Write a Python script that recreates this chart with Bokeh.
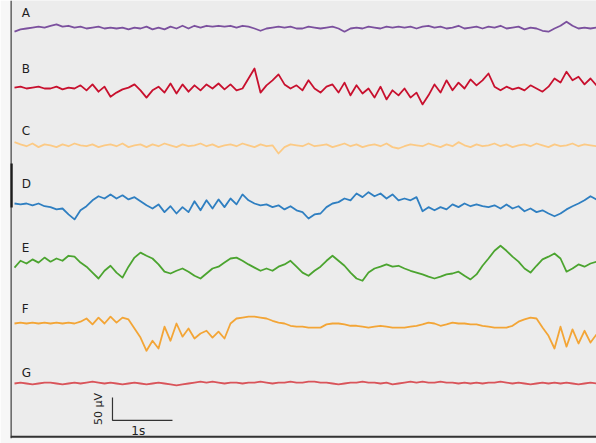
import numpy as np
from math import pi
from bokeh.plotting import figure
from bokeh.models import Range1d, Span, Label
from bokeh.embed import file_html
from bokeh.resources import INLINE

# ---- data (µV, sampled every 0.1 s) ----
channels = ["A", "B", "C", "D", "E", "F", "G"]
sample_step_s = 0.1

trace_A = [-9,-4,-2,0,2,0,4,7,2,4,
           0,2,-2,0,2,-2,0,-2,0,-4,
           0,-2,2,-4,0,-4,2,-2,4,-2,
           4,0,4,2,4,2,4,0,4,2,
           -2,-7,-2,0,2,0,2,-2,-2,2,
           0,-2,0,2,-2,-9,-2,0,-2,2,
           0,-2,2,0,2,0,2,-2,2,4,
           0,2,-2,0,4,-2,0,2,-2,2,
           0,4,-2,0,2,-4,0,-2,-7,-9,
           -2,4,13,4,-2,0,-2,0]
trace_B = [2,4,0,2,4,0,0,4,-2,2,
           0,7,-4,9,-7,4,-18,-9,-2,2,
           9,-4,-20,-4,4,-9,11,-11,9,-7,
           7,-4,9,0,11,-2,9,-4,0,22,
           44,-9,7,18,31,9,0,7,-4,18,
           0,-9,4,9,-9,13,-15,7,-11,0,
           -20,4,-24,-4,-15,0,-20,-9,-35,-15,
           9,-9,18,-4,13,0,20,7,18,33,
           4,-4,4,-2,2,-4,7,0,-7,4,
           22,13,37,18,26,9,22,7]
trace_C = [7,2,-2,4,-4,2,0,-4,2,-2,
           4,0,-2,2,-4,0,2,-2,4,-4,
           0,2,-4,2,-2,4,0,-4,2,-2,
           0,4,-2,2,-4,0,2,-2,4,0,
           -4,2,-2,0,-18,-4,2,0,-2,4,
           -2,0,2,-4,0,4,-2,2,-4,0,
           2,-2,4,-4,-7,-2,2,0,-2,4,
           0,-4,2,-2,7,0,-4,2,-2,0,
           4,-2,2,-4,0,2,-2,4,0,-4,
           2,-2,0,4,-2,2,0,-2]
trace_D = [4,2,4,0,4,-2,-4,-9,-7,-20,
           -31,-11,-2,11,20,15,24,15,22,13,
           18,9,0,-7,2,-15,-2,-18,-4,-15,
           9,-11,11,-7,13,-4,15,2,24,11,
           4,0,2,-4,0,-9,-2,-11,-15,-29,
           -20,-18,-4,4,7,15,11,26,18,29,
           20,26,15,24,11,15,11,18,-13,-4,
           -11,-4,-9,2,-4,4,-2,2,-2,-4,
           0,-7,2,-7,-2,-13,-7,-15,-11,-18,
           -24,-18,-9,-2,4,11,20,13]
trace_E = [-11,4,-2,7,0,11,2,9,4,15,
           13,0,-9,-22,-35,-18,-7,-22,-33,-9,
           11,22,15,9,-4,-20,-24,-18,-13,-20,
           -29,-35,-24,-13,-9,0,9,11,4,-4,
           -11,-18,-13,-18,-9,-4,4,-9,-22,-29,
           -18,-9,4,15,4,-7,-22,-35,-40,-22,
           -13,-9,-4,-9,-7,-13,-18,-22,-26,-31,
           -35,-31,-26,-24,-20,-29,-37,-26,-7,9,
           26,37,26,13,2,-13,-22,-7,7,13,
           20,9,-20,-13,-4,-9,-2,2]
trace_F = [-2,0,-2,0,-2,0,-2,0,-2,0,
           -2,2,9,-4,11,-2,13,0,11,7,
           -13,-33,-62,-40,-57,-9,-40,-2,-31,-13,
           -35,-24,-18,-33,-20,-35,-2,9,11,13,
           13,11,9,4,0,-2,-7,-9,-9,-11,
           -11,-11,-4,-2,-2,-4,-7,-7,-9,-11,
           -9,-7,-9,-11,-11,-11,-9,-7,-4,0,
           -2,-7,-4,0,-2,-2,-4,-4,-7,-9,
           -11,-11,-11,-7,2,7,11,9,-11,-29,
           -57,-9,-53,-15,-46,-18,-44,-26]
trace_G = [0,2,0,-2,0,2,2,0,-2,0,
           2,0,2,4,2,0,2,0,-2,0,
           2,0,-2,0,2,0,-2,-4,-2,0,
           2,4,2,4,2,0,2,2,0,2,
           2,4,2,0,2,2,4,2,2,4,
           4,2,2,0,-2,0,2,2,4,2,
           2,0,2,-2,0,2,4,2,4,2,
           2,4,2,2,0,2,0,2,0,2,
           2,4,2,0,2,0,-2,0,2,0,
           2,0,2,0,-2,0,2,0]
traces = [trace_A, trace_B, trace_C, trace_D, trace_E, trace_F, trace_G]

scale_time_s = 1
scale_amp_uv = 50

# ---- layout / style ----
offsets = [904, 770, 645, 513, 387, 255, 121]          # µV baseline of each trace
label_gap = [33, 44, 31, 46, 33, 31, 24]                 # µV above baseline for letter
colors = ["#7b509e", "#c8102e", "#fcca85", "#2f7fc1", "#4ba42f", "#f3a536", "#d9545a"]

p = figure(width=596, height=443,
           x_range=Range1d(-0.0667, 9.7), y_range=Range1d(0, 963.6),
           output_backend="svg", toolbar_location=None,
           x_axis_location=None, y_axis_location=None,
           min_border_left=10, min_border_right=0, min_border_top=0, min_border_bottom=5)
p.grid.visible = False
p.outline_line_color = None
p.background_fill_color = "#ececec"
p.border_fill_color = "#f7f7f7"

for name, vals, off, gap, col in zip(channels, traces, offsets, label_gap, colors):
    t = np.arange(len(vals)) * sample_step_s
    y = off + np.array(vals, dtype=float)
    p.line(t, y, line_color=col, line_width=1.8, line_join="round")
    p.add_layout(Label(x=0.12, y=off + gap, text=name, text_align="left",
                       text_baseline="middle", text_font="DejaVu Sans",
                       text_font_size="12px", text_color="#1e1e1e"))

# frame lines
p.add_layout(Span(location=-0.06, dimension="height", line_color="#2a2a2a", line_width=1.5))
p.add_layout(Span(location=4, dimension="width", line_color="#333333", line_width=2))
p.segment(x0=[-0.06], y0=[offsets[3] - 5], x1=[-0.06], y1=[offsets[3] + 92],
          line_color="#000000", line_width=3.5)

# scale bar
bx, by = 1.633, 40
p.line([bx, bx, bx + scale_time_s], [by + scale_amp_uv, by, by],
       line_color="#333333", line_width=1.2)
p.add_layout(Label(x=bx, y=by + scale_amp_uv / 2, x_offset=-14, text="50 µV", angle=pi / 2,
                   text_align="center", text_baseline="alphabetic",
                   text_font="DejaVu Sans", text_font_size="11px", text_color="#222222"))
p.add_layout(Label(x=bx + scale_time_s * 0.43, y=by, y_offset=-4, text="1s",
                   text_align="center", text_baseline="top",
                   text_font="DejaVu Sans", text_font_size="12px", text_color="#222222"))

open("out.html", "w").write(file_html(p, INLINE))
